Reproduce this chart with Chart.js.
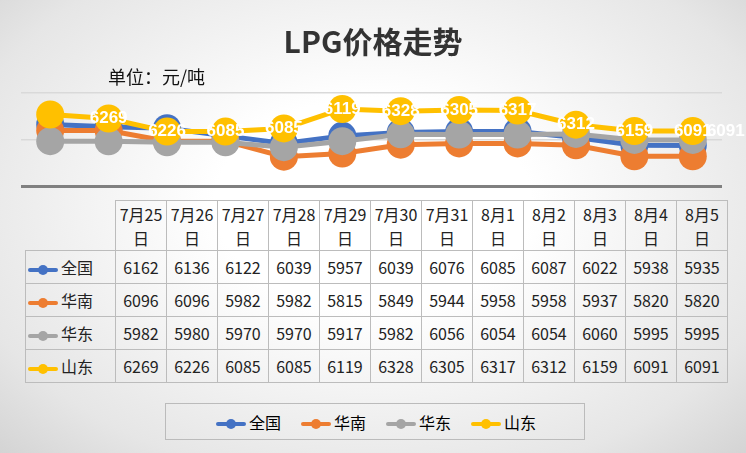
<!DOCTYPE html><html><head><meta charset="utf-8">
<script src="https://cdn.jsdelivr.net/npm/chart.js@4"></script>
<style>
body{margin:0;width:746px;height:453px;overflow:hidden;font-family:"Noto Sans CJK SC",sans-serif;}
#bg{position:absolute;left:0;top:0;width:746px;height:453px;background:radial-gradient(ellipse at 50% 45%,#ffffff 30%,#e6e6e6 80%,#d4d4d4 100%);}
#c{position:absolute;left:0;top:0;}
#title{position:absolute;left:0;width:746px;top:18px;text-align:center;font-size:30px;font-weight:bold;color:#333;}
#unit{position:absolute;left:108px;top:63px;font-size:18px;color:#111;}
table{position:absolute;left:25px;top:200px;border-collapse:collapse;font-size:16px;color:#222;}
td{border:1px solid #bcbcbc;text-align:center;padding:0;width:50px;height:32px;}
td.h{height:49px;line-height:24px;}
td.f{width:89px;text-align:left;white-space:nowrap;}
.k{display:inline-block;width:30px;height:4px;vertical-align:middle;margin:0 3px 0 2px;border-radius:2px;position:relative}
.k i{position:absolute;left:10px;top:-3px;width:10px;height:10px;border-radius:5px;}
#leg{position:absolute;left:165px;top:403px;width:418px;height:35px;border:1px solid #bbb;font-size:16px;display:flex;align-items:center;justify-content:center;gap:18px;}
</style></head><body>
<div id="bg"></div>
<canvas id="c" width="746" height="200"></canvas>
<div id="title">LPG价格走势</div>
<div id="unit">单位：元/吨</div>
<table id="t"></table>
<div id="leg"></div>
<script>
const categories=["7月25日","7月26日","7月27日","7月28日","7月29日","7月30日","7月31日","8月1日","8月2日","8月3日","8月4日","8月5日"];
const seriesNames=["全国","华南","华东","山东"];
const colors=["#4472c4","#ed7d31","#a5a5a5","#ffc000"];
const quanguo=[6162,6136,6122,6039,5957,6039,6076,6085,6087,6022,5938,5935];
const huanan=[6096,6096,5982,5982,5815,5849,5944,5958,5958,5937,5820,5820];
const huadong=[5982,5980,5970,5970,5917,5982,6056,6054,6054,6060,5995,5995];
const shandong=[6269,6226,6085,6085,6119,6328,6305,6317,6312,6159,6091,6091];
const all=[quanguo,huanan,huadong,shandong];
let h='<tr><td class="f h" style="border-left:none;border-top:none"></td>'+categories.map(c=>{const m=c.match(/^(.*月\d+)(日)$/);return '<td class="h">'+m[1]+'<br>'+m[2]+'</td>'}).join('')+'</tr>';
all.forEach((s,i)=>{h+='<tr><td class="f"><span class="k" style="background:'+colors[i]+'"><i style="background:'+colors[i]+'"></i></span>'+seriesNames[i]+'</td>'+s.map(v=>'<td>'+v+'</td>').join('')+'</tr>'});
document.getElementById('t').innerHTML=h;
document.getElementById('leg').innerHTML=seriesNames.map((n,i)=>'<span><span class="k" style="background:'+colors[i]+'"><i style="background:'+colors[i]+'"></i></span>'+n+'</span>').join('');
const labelPlugin={id:'lbl',afterDatasetsDraw(ch){const ctx=ch.ctx;const meta=ch.getDatasetMeta(3);const x=ch.scales.x;ctx.save();ctx.font='bold 17px "Liberation Sans Narrow","Liberation Sans",sans-serif';ctx.fillStyle='#fff';ctx.textAlign='center';ctx.textBaseline='middle';
shandong.forEach((v,i)=>{let px=i<11?x.getPixelForValue(i+1):x.getPixelForValue(11)+33;const py=meta.data[Math.min(i+1,11)].y;ctx.fillText(String(v),px,py);});ctx.restore();}};
new Chart(document.getElementById('c'),{type:'line',
data:{labels:categories,datasets:all.map((s,i)=>({label:seriesNames[i],data:s,borderColor:colors[i],backgroundColor:colors[i],borderWidth:5,pointRadius:14,pointBorderWidth:0,clip:false,order:4-i}))},
options:{responsive:false,animation:false,layout:{padding:{top:93,bottom:13,left:21,right:24}},
plugins:{legend:{display:false},tooltip:{enabled:false}},
scales:{x:{display:false,offset:true},y:{min:5500,max:6500,ticks:{display:false,stepSize:500},border:{display:false},
grid:{color:c=>c.tick.value===5500?'#808080':'#d9d9d9',lineWidth:c=>c.tick.value===5500?3:1.5,drawTicks:false}}}},
plugins:[labelPlugin]});
</script></body></html>
